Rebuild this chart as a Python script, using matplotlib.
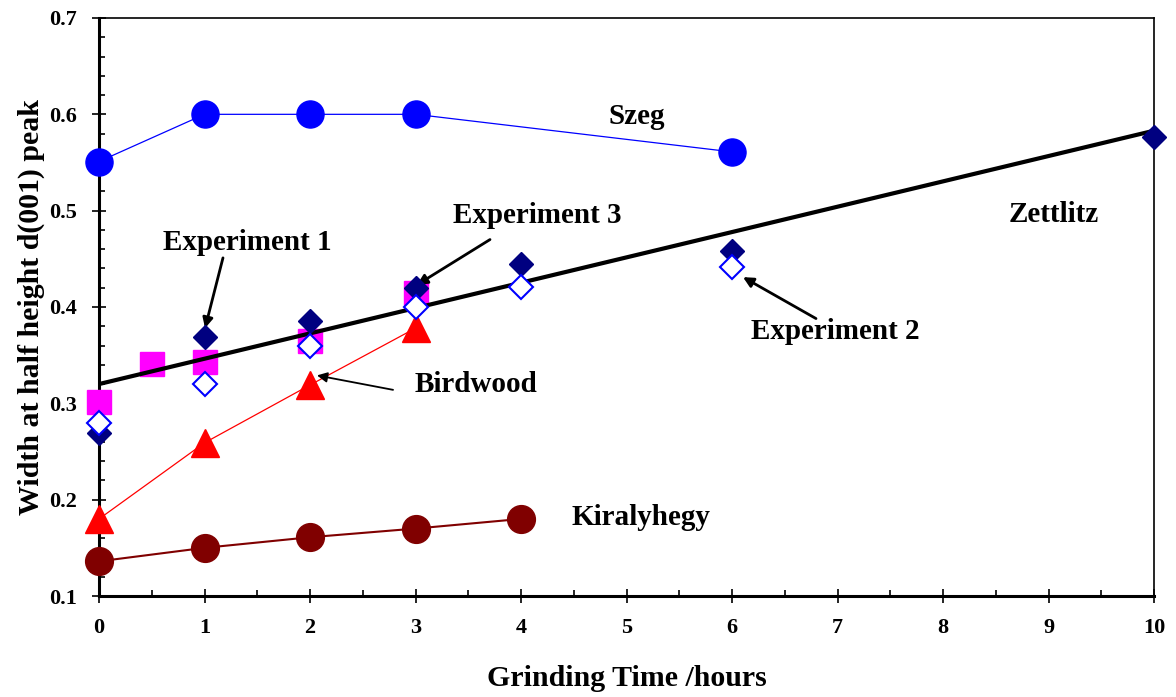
import matplotlib
matplotlib.use("Agg")
import matplotlib.pyplot as plt
from matplotlib.ticker import MultipleLocator

plt.rcParams['font.family'] = ['Liberation Serif', 'DejaVu Serif']
plt.rcParams['font.weight'] = 'bold'

# data
szeg_x = [0, 1, 2, 3, 6]
szeg_y = [0.551, 0.600, 0.600, 0.600, 0.561]

kiraly_x = [0, 1, 2, 3, 4]
kiraly_y = [0.136, 0.150, 0.161, 0.170, 0.180]

bird_x = [0, 1, 2, 3]
bird_y = [0.180, 0.259, 0.319, 0.378]

exp1_x = [0, 1, 2, 3, 4, 6, 10]
exp1_y = [0.269, 0.369, 0.385, 0.420, 0.445, 0.458, 0.576]

exp2_x = [0, 1, 2, 3, 4, 6]
exp2_y = [0.280, 0.320, 0.360, 0.400, 0.421, 0.441]

exp3_x = [0, 0.5, 1, 2, 3]
exp3_y = [0.301, 0.341, 0.343, 0.365, 0.415]

# Zettlitz linear fit end points
fit_x = [0, 10]
fit_y = [0.320, 0.583]

fig = plt.figure(figsize=(11.76, 6.97), dpi=100)
ax = fig.add_axes([0.0842, 0.1449, 0.8971, 0.8293])

ax.plot(szeg_x, szeg_y, color='#0000ff', lw=0.9, marker='o', ms=19.5, zorder=3, clip_on=False)
ax.plot(kiraly_x, kiraly_y, color='#800000', lw=1.5, marker='o', ms=20, zorder=3, clip_on=False)
ax.plot(bird_x, bird_y, color='#ff0000', lw=0.9, marker='^', ms=20, zorder=3, clip_on=False)
ax.plot(fit_x, fit_y, color='black', lw=3, zorder=4)
ax.plot(exp3_x, exp3_y, ls='none', marker='s', ms=17.5, color='#ff00ff', zorder=3, clip_on=False)
ax.plot(exp1_x, exp1_y, ls='none', marker='D', ms=12, color='#000080', zorder=5, clip_on=False)
ax.plot(exp2_x, exp2_y, ls='none', marker='D', ms=12.5, mfc='white', mec='#0000ff', mew=1.5,
        zorder=6, clip_on=False)

ax.set_xlim(0, 10)
ax.set_ylim(0.1, 0.7)
ax.xaxis.set_major_locator(MultipleLocator(1))
ax.xaxis.set_minor_locator(MultipleLocator(0.5))
ax.yaxis.set_major_locator(MultipleLocator(0.1))
ax.yaxis.set_minor_locator(MultipleLocator(0.02))
ax.tick_params(which='both', top=False, right=False, width=1.2)
ax.tick_params(which='major', direction='inout', length=10, labelsize=16)
ax.tick_params(which='minor', direction='in', length=4.5)
ax.tick_params(axis='x', which='major', pad=11)
ax.tick_params(axis='y', which='major', pad=11)
ax.yaxis.set_major_formatter(plt.FuncFormatter(lambda v, loc: "{:.1f}".format(v)))
for s in ['left', 'bottom']:
    ax.spines[s].set_linewidth(2.2)
for s in ['top', 'right']:
    ax.spines[s].set_linewidth(1.2)

ax.set_xlabel("Grinding Time /hours", fontsize=21.5, fontweight='bold', labelpad=19)
ax.set_ylabel("Width at half height d(001) peak", fontsize=21.5, fontweight='bold', labelpad=3)

tkw = dict(fontsize=21, fontweight='bold', ha='center', va='center')
ax.text(5.10, 0.598, "Szeg", **tkw)
ax.text(9.05, 0.496, "Zettlitz", **tkw)
ax.text(5.14, 0.182, "Kiralyhegy", **tkw)
ax.text(3.57, 0.320, "Birdwood", **tkw)
ax.text(1.41, 0.467, "Experiment 1", **tkw)
ax.text(4.15, 0.495, "Experiment 3", **tkw)
ax.text(6.98, 0.375, "Experiment 2", **tkw)

# arrows: (head, tail)
arrows = [((1.005, 0.378), (1.175, 0.451), 2.0),
          ((3.014, 0.423), (3.706, 0.470), 2.0),
          ((2.066, 0.329), (2.787, 0.314), 1.3),
          ((6.104, 0.431), (6.796, 0.388), 2.0)]
for head, tail, w in arrows:
    ax.annotate("", xy=head, xytext=tail,
                arrowprops=dict(arrowstyle='-|>', color='black', lw=w, mutation_scale=15,
                                shrinkA=0, shrinkB=0))

fig.savefig("out.png", dpi=100)
